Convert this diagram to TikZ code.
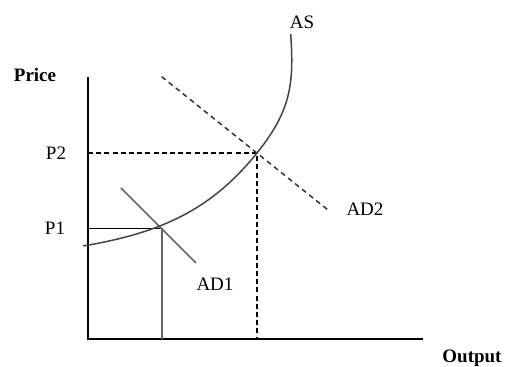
\documentclass[tikz,border=0pt]{standalone}
\usepackage{fontspec}
\setmainfont{Liberation Serif}
\usepackage{xcolor}
\usetikzlibrary{positioning}
\definecolor{curvecol}{HTML}{444444}
\definecolor{adcol}{HTML}{666666}

\begin{document}
\begin{tikzpicture}[
  x=0.5pt,y=-0.5pt,
  font=\fontsize{9.5}{11}\selectfont,
  axis/.style={line width=0.75pt,black},
  guide/.style={line width=0.7pt,black,dash pattern=on 2.5pt off 1.6pt},
  lbl/.style={inner sep=0pt},
  sched/.style={line width=0.75pt,curvecol},
  adline/.style={line width=0.75pt,adcol},
  addash/.style={line width=0.75pt,black!80,dash pattern=on 2.5pt off 2pt},
]
\useasboundingbox (0,0) rectangle (505,367);

\coordinate (top) at (88,77);
\coordinate (orig) at (88,339);
\coordinate (right) at (423,339);
\coordinate (e1) at (162,228.5);
\coordinate (e2) at (257,153);
\coordinate (p1y) at (88,228.5);
\coordinate (p2y) at (88,153);
\coordinate (q1) at (162,339);
\coordinate (q2) at (257,339);
\coordinate (asl) at (83,246);
\coordinate (ast) at (290.7,34);
\coordinate (ad1a) at (121,188);
\coordinate (ad1b) at (196,263);
\coordinate (ad2a) at (161.7,76.7);
\coordinate (ad2b) at (328,210);

\node[lbl,font=\fontsize{9.5}{11}\selectfont\bfseries] (price) at (35,75) {Price};
\node[lbl,font=\fontsize{9.5}{11}\selectfont\bfseries] (output) at (472,358.5) {Output};
\node[lbl] (p2) at (56,153) {P2};
\node[lbl] (p1) at (55,228) {P1};
\node[lbl] (as) at (302,22) {AS};
\node[lbl] (ad2) at (365,209.5) {AD2};
\node[lbl] (ad1) at (215,284) {AD1};

\draw[axis] (top) -- (orig) -- (right);
\draw[guide] (p2y) -- (e2) -- (q2);
\draw[axis] (p1y) -- (e1);
\draw[adline] (e1) -- (q1);
\draw[addash] (ad2a) -- (ad2b);
\draw[adline] (ad1a) -- (ad1b);
\draw[sched] (asl) .. controls (163,232.6) and (212,208.75) .. (e2)
  .. controls (291,110.5) and (294.1,84) .. (ast);
\end{tikzpicture}
\end{document}
